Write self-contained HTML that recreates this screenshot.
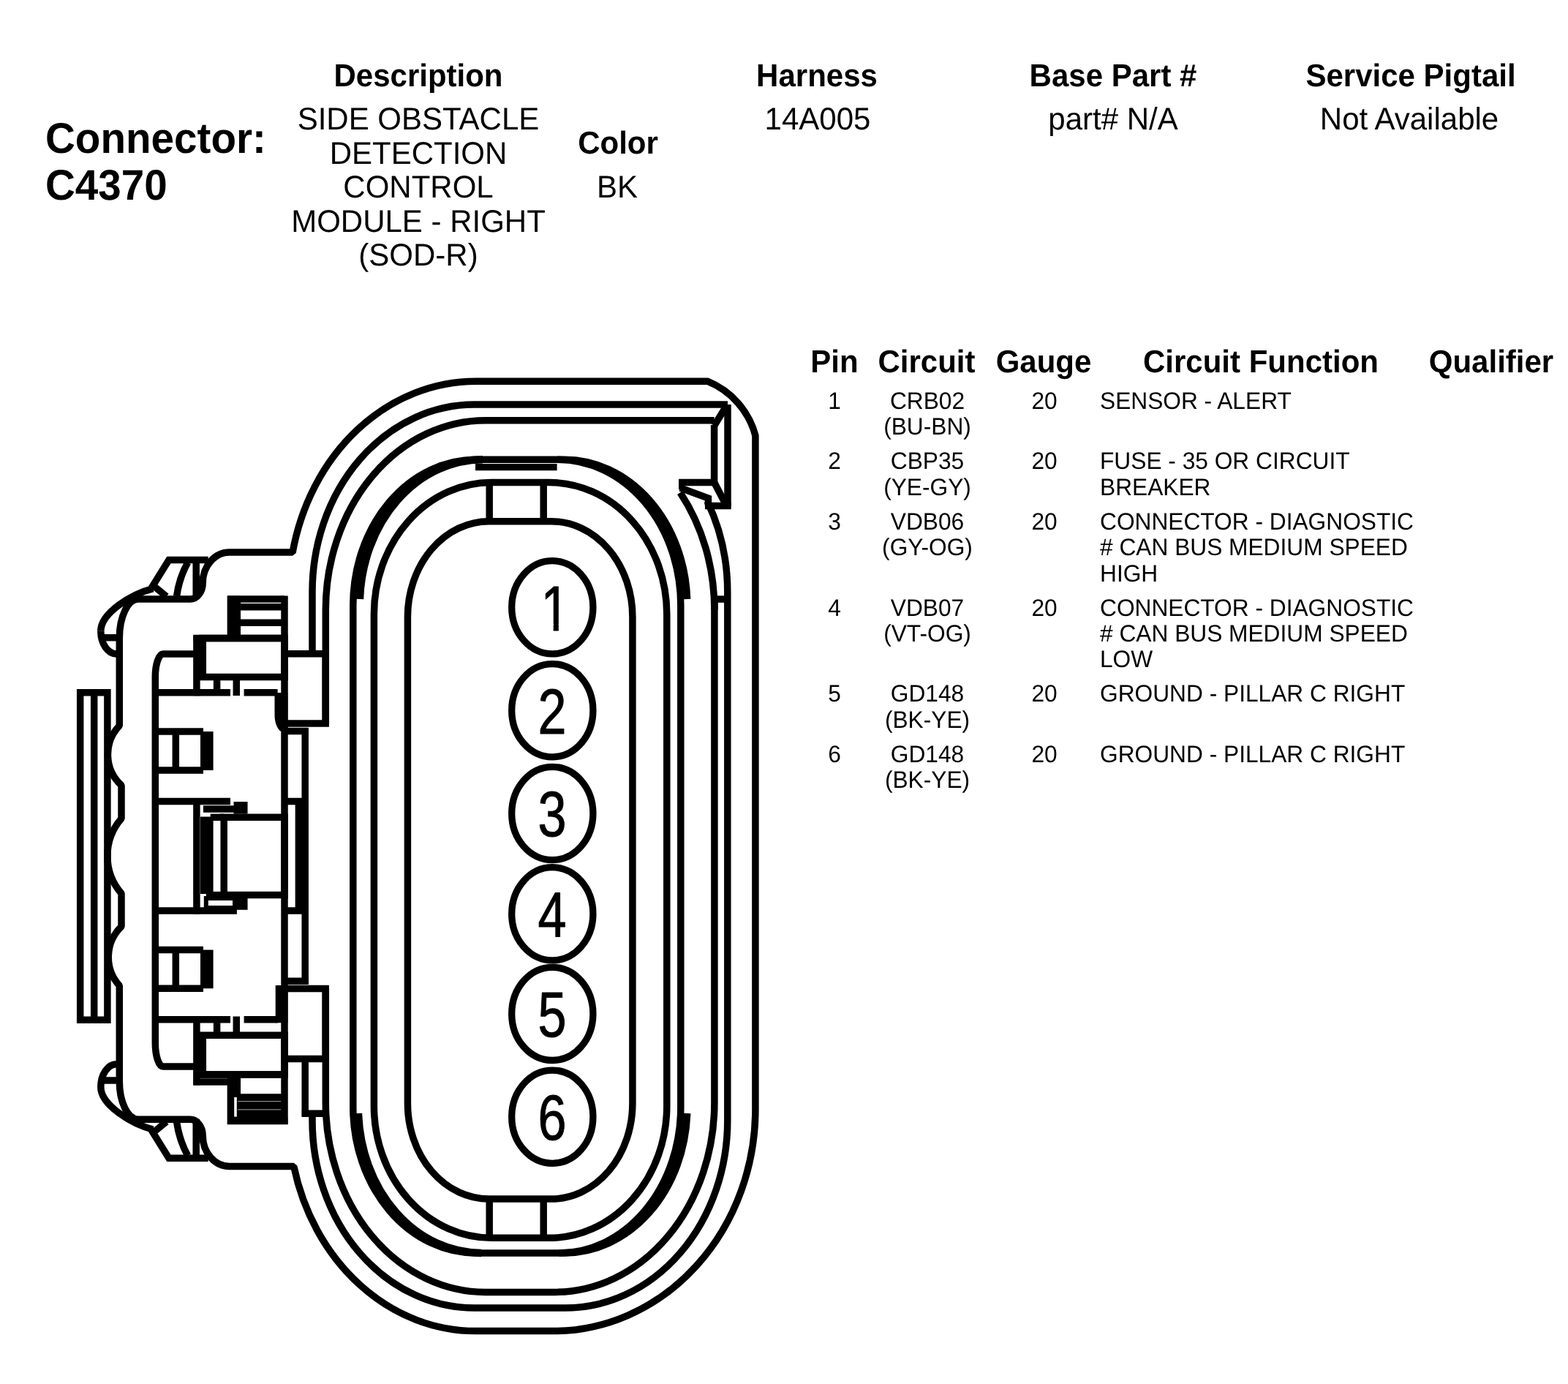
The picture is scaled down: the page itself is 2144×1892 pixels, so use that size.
<!DOCTYPE html>
<html lang="en"><head><meta charset="utf-8"><title>Connector C4370</title>
<style>
html,body{margin:0;padding:0;background:#fff;}
body{width:2144px;height:1892px;position:relative;overflow:hidden;font-family:"Liberation Sans",Arial,Helvetica,sans-serif;color:#000;}
.t{position:absolute;white-space:nowrap;margin:0;padding:0;will-change:transform;text-rendering:geometricPrecision;}
svg text{font-family:"Liberation Sans",Arial,Helvetica,sans-serif;fill:#000;stroke:none;}
</style></head><body>
<svg xmlns="http://www.w3.org/2000/svg" width="2144" height="1892" viewBox="0 0 2144 1892" style="position:absolute;left:0;top:0" fill="none" stroke="#000" stroke-linejoin="miter" stroke-linecap="butt">
<path d="M400.10 755.1 A255.9 293.3 0 0 1 650.70 521.20 H967.3 A111 111 0 0 1 1032.9 595.4 V1516.2 A276.4 303.4 0 0 1 756.50 1819.60 H650.7 A255.9 293.3 0 0 1 401.75 1594.50 H313.8 A36.6 42 0 0 1 277.2 1552.5 A17.2 22.2 0 0 0 260 1530.3 H189 A25.7 52 0 0 1 163.3 1478 V1347.4 A58 58 0 0 1 166 1266.7 V1221.3 A78 78 0 0 1 166 1119 V1073.5 A57 57 0 0 1 163.3 992 V872.4 A25.7 53.3 0 0 1 189 819.1 H260 A17.2 22.1 0 0 0 277.2 797 A36.6 41.9 0 0 1 313.8 755.1 Z" stroke-width="9.5" stroke-linejoin="bevel"/>
<path d="M427 893.8 V809.2 A221.6 256.1 0 0 1 648.60 553.10 H995" stroke-width="9.5" />
<path d="M995 553.1 V691.4" stroke-width="9.5" />
<path d="M999.7 691.4 H964" stroke-width="9.5" />
<path d="M994.8 819 V1531.8999999999999 A221.6 256.1 0 0 1 773.20 1788.00 H648.6 A221.6 256.1 0 0 1 427.00 1531.90 V1522" stroke-width="9.5" />
<path d="M445.3 989 V833.8 A218.5 259.1 0 0 1 663.80 574.70 H976.6" stroke-width="9.5" />
<path d="M976.6 582 L992.6 556" stroke-width="9.5" />
<path d="M976.9 819 V1507.3 A218.5 259.1 0 0 1 758.40 1766.40 H663.8 A218.5 259.1 0 0 1 445.30 1507.30 V1351.5" stroke-width="9.5" />
<path d="M976.6 581 V659.5 H928" stroke-width="9.5" />
<path d="M928 664.5 H932" stroke-width="9.5" />
<path d="M976.6 659.5 L991 687" stroke-width="9.5" />
<path d="M930.2 667 L968.4 681 V691.4" stroke-width="9.5" />
<path d="M976.6 819.1 H995" stroke-width="9.5" />
<path d="M930 673.41 A218.5 259.1 0 0 1 976.90 833.80 V819.1" stroke-width="9.5" />
<path d="M967 685.01 A221.6 256.1 0 0 1 994.80 809.20 V819.1" stroke-width="9.5" />
<path d="M939.65 819.0 A168.2 199.1 0 0 0 771.60 628.20 H651.0 A168.2 199.1 0 0 0 482.80 827.30 V1513.8 A168.2 199.1 0 0 0 651.00 1712.90 H771.5999999999999 A168.2 199.1 0 0 0 939.66 1522.00 " stroke-width="9.5" />
<path d="M491.95 819.0 A168.2 199.1 0 0 1 660.00 628.20 " stroke-width="10.5" />
<path d="M658.0 1712.8999999999999 A168.2 199.1 0 0 1 489.94 1522.00 " stroke-width="10.5" />
<path d="M762.5999999999999 628.1999999999999 A168.2 199.1 0 0 1 930.80 827.30 V1513.8 A166.2 199.1 0 0 1 764.60 1712.90 " stroke-width="9.5" />
<path d="M650 634H761.6V643.2H650Z" fill="#000" stroke="none"/>
<path d="M511.4 839.8 A160.7 180.3 0 0 1 672.10 659.50 H751.0999999999999 A160.7 180.3 0 0 1 911.80 839.80 V1512.0000000000002 A160.7 180.3 0 0 1 751.10 1692.30 H672.1 A160.7 180.3 0 0 1 511.40 1512.00 Z" stroke-width="9.5" />
<path d="M557.4 843.5 A111.2 130.8 0 0 1 668.60 712.70 H753.6999999999999 A111.2 130.8 0 0 1 864.90 843.50 V1508.3000000000002 A111.2 130.8 0 0 1 753.70 1639.10 H668.6 A111.2 130.8 0 0 1 557.40 1508.30 Z" stroke-width="9.5" />
<path d="M669.2 659.5L669.2 712.7" stroke-width="9.5" />
<path d="M743.2 659.5L743.2 712.7" stroke-width="9.5" />
<path d="M669.2 1639.1L669.2 1692.2" stroke-width="9.5" />
<path d="M743.2 1639.1L743.2 1692.2" stroke-width="9.5" />
<clipPath id="nofoot"><path d="M-60 -80 H60 V-9 H4.72 V5 H-2.41 V-9 H-60 Z"/></clipPath>
<ellipse cx="755.3" cy="830.3" rx="55.6" ry="63.6" stroke-width="9.3"/>
<g transform="translate(759.1 861.6999999999999)" clip-path="url(#nofoot)"><text transform="scale(0.80 1)" text-anchor="middle" font-size="87.6" style="stroke:#000;stroke-width:1.1px;stroke-linejoin:round">1</text></g>
<ellipse cx="755.3" cy="971.2" rx="55.6" ry="63.6" stroke-width="9.3"/>
<g transform="translate(755.1 1002.6)"><text transform="scale(0.80 1)" text-anchor="middle" font-size="87.6" style="stroke:#000;stroke-width:1.1px;stroke-linejoin:round">2</text></g>
<ellipse cx="755.3" cy="1112.0" rx="55.6" ry="63.6" stroke-width="9.3"/>
<g transform="translate(755.1 1143.4)"><text transform="scale(0.80 1)" text-anchor="middle" font-size="87.6" style="stroke:#000;stroke-width:1.1px;stroke-linejoin:round">3</text></g>
<ellipse cx="755.3" cy="1249.3" rx="55.6" ry="63.6" stroke-width="9.3"/>
<g transform="translate(755.1 1280.7)"><text transform="scale(0.80 1)" text-anchor="middle" font-size="87.6" style="stroke:#000;stroke-width:1.1px;stroke-linejoin:round">4</text></g>
<ellipse cx="755.3" cy="1385.9" rx="55.6" ry="63.6" stroke-width="9.3"/>
<g transform="translate(755.1 1417.3000000000002)"><text transform="scale(0.80 1)" text-anchor="middle" font-size="87.6" style="stroke:#000;stroke-width:1.1px;stroke-linejoin:round">5</text></g>
<ellipse cx="755.3" cy="1526.7" rx="55.6" ry="63.6" stroke-width="9.3"/>
<g transform="translate(755.1 1558.1000000000001)"><text transform="scale(0.80 1)" text-anchor="middle" font-size="87.6" style="stroke:#000;stroke-width:1.1px;stroke-linejoin:round">6</text></g>
<path d="M137.8 862.7 C137.8 838 180 812 209.3 804.6" stroke-width="9.5" />
<path d="M137.8 862.7 A21.5 31.2 0 0 0 159.3 893.9" stroke-width="9.5" />
<path d="M140 871.7 H160" stroke-width="9.5" />
<path d="M284.7 765.5 H230.9 L209.3 800.3 L227.6 815.4" stroke-width="9.5" />
<path d="M256.7 769 Q245 790 241.6 815" stroke-width="9.5" />
<path d="M268.2 765.5 V819" stroke-width="9.5" />
<path d="M137.8 1485.9999999999998 C137.8 1510.6999999999998 180 1536.6999999999998 209.3 1544.1" stroke-width="9.5" />
<path d="M137.8 1485.9999999999998 A21.5 31.2 0 0 1 159.3 1454.7999999999997" stroke-width="9.5" />
<path d="M140 1476.9999999999998 H160" stroke-width="9.5" />
<path d="M284.7 1583.1999999999998 H230.9 L209.3 1548.3999999999999 L227.6 1533.2999999999997" stroke-width="9.5" />
<path d="M256.7 1579.6999999999998 Q245 1558.6999999999998 241.6 1533.6999999999998" stroke-width="9.5" />
<path d="M268.2 1583.1999999999998 V1529.6999999999998" stroke-width="9.5" />
<path d="M109.7 946.7 H146.9 V1394.2 H109.7 Z" stroke-width="9.5" />
<path d="M128.7 946.7L128.7 1394.2" stroke-width="9.5" />
<path d="M268.5 893.9 H223 A10.7 31.6 0 0 0 212.3 925.5 V1425.5 A10.7 32.5 0 0 0 223 1458 H268.5" stroke-width="9.5" />
<path d="M212.3 946.8 H315" stroke-width="9.5" />
<path d="M333.6 946.8 H379.6" stroke-width="9.5" />
<path d="M212.3 1393.8 H315" stroke-width="9.5" />
<path d="M333.6 1393.8 H379.6" stroke-width="9.5" />
<path d="M212.3 1095.4 H315" stroke-width="9.5" />
<path d="M212.3 1245 H323.9" stroke-width="9.5" />
<path d="M212.3 1000.1 H278" stroke-width="9.5" />
<path d="M212.3 1053 H278" stroke-width="9.5" />
<path d="M240.3 1000.1L240.3 1053" stroke-width="9.5" />
<path d="M282.8 1000.1L282.8 1053" stroke-width="17.6" />
<path d="M212.3 1298.5 H278" stroke-width="9.5" />
<path d="M212.3 1351.3 H278" stroke-width="9.5" />
<path d="M240.3 1298.5L240.3 1351.3" stroke-width="9.5" />
<path d="M282.8 1298.5L282.8 1351.3" stroke-width="17.6" />
<path d="M268.9 868.2L268.9 951.2" stroke-width="9.5" />
<path d="M277.3 872.6 H389 V925.5 H277.3 Z" stroke-width="9.5" />
<path d="M264.5 872.6 H389" stroke-width="9.5" />
<path d="M315.4 814.6L315.4 872.6" stroke-width="9.5" />
<path d="M324.3 814.6L324.3 872.6" stroke-width="9.5" />
<path d="M311 819 H389" stroke-width="9.5" />
<path d="M324.3 829.7 H389" stroke-width="9.5" />
<path d="M324.3 851.2 H389" stroke-width="9.5" />
<path d="M296.6 925.5L296.6 947" stroke-width="9.5" />
<path d="M323.3 929L323.3 951" stroke-width="9.5" />
<path d="M268.9 1389.4L268.9 1483.5" stroke-width="9.5" />
<path d="M277.3 1415.3 H389 V1469 H277.3 Z" stroke-width="9.5" />
<path d="M264.5 1469 H389" stroke-width="9.5" />
<path d="M264.5 1479 H320" stroke-width="9.5" />
<path d="M296.6 1393.8L296.6 1415" stroke-width="9.5" />
<path d="M323.3 1389.5L323.3 1411" stroke-width="9.5" />
<path d="M315.4 1469L315.4 1537" stroke-width="9.5" />
<path d="M324.3 1469L324.3 1537" stroke-width="9.5" />
<path d="M324.3 1495.3H389V1537H324.3Z" fill="#000" stroke="none"/>
<path d="M311 1532.6 H393.4" stroke-width="9.5" />
<path d="M325 1505.7 H384.5 M325 1516.9 H384.5" stroke="#bbb" stroke-width="0.9"/>
<path d="M320.2 1500 H323.8 V1526.6 H320.2 Z" fill="#fff" stroke="none"/>
<path d="M389 814.6L389 1537" stroke-width="9.5" />
<path d="M389 893.8 H445.2 V989 H389" stroke-width="9.5" />
<path d="M389 1351.5 H449.6" stroke-width="9.5" />
<path d="M389 1447.4 H449.6" stroke-width="9.5" />
<path d="M445.2 1347L445.2 1452" stroke-width="9.5" />
<path d="M417.2 995.2L417.2 1345.7" stroke-width="9.5" />
<path d="M417.2 1447.4L417.2 1526.6" stroke-width="9.5" />
<path d="M408.4 1095.4L408.4 1245.1" stroke-width="9.5" />
<path d="M389 1095.4 H421.6" stroke-width="9.5" />
<path d="M389 1245.1 H421.6" stroke-width="9.5" />
<path d="M389 999.5 H421.6" stroke-width="9.5" />
<path d="M389 1341.3 H421.6" stroke-width="9.5" />
<path d="M412.8 1522.2 H449.6" stroke-width="9.5" />
<path d="M375.5 947 H393.4 V1004 Q376 1001 375.5 978 Z" fill="#000" stroke="none"/>
<path d="M376.7 1347H393.4V1398.2H376.7Z" fill="#000" stroke="none"/>
<path d="M306.2 1117.3 H389 V1223.6 H306.2 Z" stroke-width="9.5" />
<path d="M287.7 1117.3 H306.2" stroke-width="9.5" />
<path d="M281.8 1223.6 H306.2" stroke-width="9.5" />
<path d="M282.8 1116.5L282.8 1222" stroke-width="17.6" />
<path d="M268.9 1091L268.9 1249.4" stroke-width="9.5" />
<path d="M277.9 1106 H321" stroke-width="9.5" />
<path d="M324.3 1096L324.3 1112.6" stroke-width="9.5" />
<path d="M333.8 1096L333.8 1112.6" stroke-width="9.5" />
<path d="M281.8 1228 H321 V1241 H281.8 Z" stroke-width="6" />
<path d="M324.3 1228L324.3 1243.8" stroke-width="9.5" />
<path d="M333.8 1228L333.8 1243.8" stroke-width="9.5" />
</svg>
<div class="t" style="top:156px;font-size:56.6px;line-height:68px;font-weight:bold;left:61.50px;transform-origin:0 54px;transform:scale(1.0,1.037);">Connector:</div>
<div class="t" style="top:220px;font-size:56.6px;line-height:68px;font-weight:bold;left:61.50px;transform-origin:0 54px;transform:scale(1.0,1.037);">C4370</div>
<div class="t" style="top:79px;font-size:42px;line-height:50px;font-weight:bold;left:172.20px;width:800px;text-align:center;transform-origin:400px 40px;transform:scale(1.0,1.035);">Description</div>
<div class="t" style="top:138px;font-size:42px;line-height:50px;left:171.80px;width:800px;text-align:center;transform-origin:400px 40px;transform:scale(1.0,1.02);">SIDE OBSTACLE</div>
<div class="t" style="top:185px;font-size:42px;line-height:50px;left:171.80px;width:800px;text-align:center;transform-origin:400px 40px;transform:scale(1.0,1.02);">DETECTION</div>
<div class="t" style="top:231px;font-size:42px;line-height:50px;left:171.80px;width:800px;text-align:center;transform-origin:400px 40px;transform:scale(1.0,1.02);">CONTROL</div>
<div class="t" style="top:278px;font-size:42px;line-height:50px;left:171.80px;width:800px;text-align:center;transform-origin:400px 40px;transform:scale(1.0,1.02);">MODULE - RIGHT</div>
<div class="t" style="top:324px;font-size:42px;line-height:50px;left:171.80px;width:800px;text-align:center;transform-origin:400px 40px;transform:scale(1.0,1.02);">(SOD-R)</div>
<div class="t" style="top:171px;font-size:42px;line-height:50px;font-weight:bold;left:444.60px;width:800px;text-align:center;transform-origin:400px 40px;transform:scale(1.0,1.035);">Color</div>
<div class="t" style="top:231px;font-size:42px;line-height:50px;left:444.30px;width:800px;text-align:center;transform-origin:400px 40px;transform:scale(1.0,1.02);">BK</div>
<div class="t" style="top:79px;font-size:42px;line-height:50px;font-weight:bold;left:717.20px;width:800px;text-align:center;transform-origin:400px 40px;transform:scale(1.0,1.035);">Harness</div>
<div class="t" style="top:138px;font-size:42px;line-height:50px;left:717.50px;width:800px;text-align:center;transform-origin:400px 40px;transform:scale(1.0,1.02);">14A005</div>
<div class="t" style="top:79px;font-size:42px;line-height:50px;font-weight:bold;left:1122.30px;width:800px;text-align:center;transform-origin:400px 40px;transform:scale(1.0,1.035);">Base Part #</div>
<div class="t" style="top:138px;font-size:42px;line-height:50px;left:1122.00px;width:800px;text-align:center;transform-origin:400px 40px;transform:scale(1.0,1.02);">part# N/A</div>
<div class="t" style="top:79px;font-size:42px;line-height:50px;font-weight:bold;left:1528.50px;width:800px;text-align:center;transform-origin:400px 40px;transform:scale(1.0,1.035);">Service Pigtail</div>
<div class="t" style="top:138px;font-size:42px;line-height:50px;left:1527.30px;width:800px;text-align:center;transform-origin:400px 40px;transform:scale(1.0,1.02);">Not Available</div>
<div class="t" style="top:470px;font-size:42px;line-height:50px;font-weight:bold;left:741.10px;width:800px;text-align:center;transform-origin:400px 40px;transform:scale(1.0,1.035);">Pin</div>
<div class="t" style="top:470px;font-size:42px;line-height:50px;font-weight:bold;left:867.40px;width:800px;text-align:center;transform-origin:400px 40px;transform:scale(1.0,1.035);">Circuit</div>
<div class="t" style="top:470px;font-size:42px;line-height:50px;font-weight:bold;left:1027.40px;width:800px;text-align:center;transform-origin:400px 40px;transform:scale(1.0,1.035);">Gauge</div>
<div class="t" style="top:470px;font-size:42px;line-height:50px;font-weight:bold;left:1324.20px;width:800px;text-align:center;transform-origin:400px 40px;transform:scale(1.0,1.035);">Circuit Function</div>
<div class="t" style="top:470px;font-size:42px;line-height:50px;font-weight:bold;left:1639.20px;width:800px;text-align:center;transform-origin:400px 40px;transform:scale(1.0,1.035);">Qualifier</div>
<div class="t" style="top:529px;font-size:31.7px;line-height:38px;left:740.70px;width:800px;text-align:center;transform-origin:400px 30px;transform:scale(1.0,1.03);">1</div>
<div class="t" style="top:529px;font-size:31.7px;line-height:38px;left:867.60px;width:800px;text-align:center;transform-origin:400px 30px;transform:scale(1.0,1.03);">CRB02</div>
<div class="t" style="top:564px;font-size:31.7px;line-height:38px;left:867.60px;width:800px;text-align:center;transform-origin:400px 30px;transform:scale(1.0,1.03);">(BU-BN)</div>
<div class="t" style="top:529px;font-size:31.7px;line-height:38px;left:1028.00px;width:800px;text-align:center;transform-origin:400px 30px;transform:scale(1.0,1.03);">20</div>
<div class="t" style="top:529px;font-size:31.7px;line-height:38px;left:1504.30px;transform-origin:0 30px;transform:scale(1.0,1.03);">SENSOR - ALERT</div>
<div class="t" style="top:611px;font-size:31.7px;line-height:38px;left:740.70px;width:800px;text-align:center;transform-origin:400px 30px;transform:scale(1.0,1.03);">2</div>
<div class="t" style="top:611px;font-size:31.7px;line-height:38px;left:867.60px;width:800px;text-align:center;transform-origin:400px 30px;transform:scale(1.0,1.03);">CBP35</div>
<div class="t" style="top:647px;font-size:31.7px;line-height:38px;left:867.60px;width:800px;text-align:center;transform-origin:400px 30px;transform:scale(1.0,1.03);">(YE-GY)</div>
<div class="t" style="top:611px;font-size:31.7px;line-height:38px;left:1028.00px;width:800px;text-align:center;transform-origin:400px 30px;transform:scale(1.0,1.03);">20</div>
<div class="t" style="top:611px;font-size:31.7px;line-height:38px;left:1504.30px;transform-origin:0 30px;transform:scale(1.0,1.03);">FUSE - 35 OR CIRCUIT</div>
<div class="t" style="top:647px;font-size:31.7px;line-height:38px;left:1504.30px;transform-origin:0 30px;transform:scale(1.0,1.03);">BREAKER</div>
<div class="t" style="top:694px;font-size:31.7px;line-height:38px;left:740.70px;width:800px;text-align:center;transform-origin:400px 30px;transform:scale(1.0,1.03);">3</div>
<div class="t" style="top:694px;font-size:31.7px;line-height:38px;left:867.60px;width:800px;text-align:center;transform-origin:400px 30px;transform:scale(1.0,1.03);">VDB06</div>
<div class="t" style="top:729px;font-size:31.7px;line-height:38px;left:867.60px;width:800px;text-align:center;transform-origin:400px 30px;transform:scale(1.0,1.03);">(GY-OG)</div>
<div class="t" style="top:694px;font-size:31.7px;line-height:38px;left:1028.00px;width:800px;text-align:center;transform-origin:400px 30px;transform:scale(1.0,1.03);">20</div>
<div class="t" style="top:694px;font-size:31.7px;line-height:38px;left:1504.30px;transform-origin:0 30px;transform:scale(1.0,1.03);">CONNECTOR - DIAGNOSTIC</div>
<div class="t" style="top:729px;font-size:31.7px;line-height:38px;left:1504.30px;transform-origin:0 30px;transform:scale(1.0,1.03);"># CAN BUS MEDIUM SPEED</div>
<div class="t" style="top:765px;font-size:31.7px;line-height:38px;left:1504.30px;transform-origin:0 30px;transform:scale(1.0,1.03);">HIGH</div>
<div class="t" style="top:812px;font-size:31.7px;line-height:38px;left:740.70px;width:800px;text-align:center;transform-origin:400px 30px;transform:scale(1.0,1.03);">4</div>
<div class="t" style="top:812px;font-size:31.7px;line-height:38px;left:867.60px;width:800px;text-align:center;transform-origin:400px 30px;transform:scale(1.0,1.03);">VDB07</div>
<div class="t" style="top:847px;font-size:31.7px;line-height:38px;left:867.60px;width:800px;text-align:center;transform-origin:400px 30px;transform:scale(1.0,1.03);">(VT-OG)</div>
<div class="t" style="top:812px;font-size:31.7px;line-height:38px;left:1028.00px;width:800px;text-align:center;transform-origin:400px 30px;transform:scale(1.0,1.03);">20</div>
<div class="t" style="top:812px;font-size:31.7px;line-height:38px;left:1504.30px;transform-origin:0 30px;transform:scale(1.0,1.03);">CONNECTOR - DIAGNOSTIC</div>
<div class="t" style="top:847px;font-size:31.7px;line-height:38px;left:1504.30px;transform-origin:0 30px;transform:scale(1.0,1.03);"># CAN BUS MEDIUM SPEED</div>
<div class="t" style="top:882px;font-size:31.7px;line-height:38px;left:1504.30px;transform-origin:0 30px;transform:scale(1.0,1.03);">LOW</div>
<div class="t" style="top:929px;font-size:31.7px;line-height:38px;left:740.70px;width:800px;text-align:center;transform-origin:400px 30px;transform:scale(1.0,1.03);">5</div>
<div class="t" style="top:929px;font-size:31.7px;line-height:38px;left:867.60px;width:800px;text-align:center;transform-origin:400px 30px;transform:scale(1.0,1.03);">GD148</div>
<div class="t" style="top:965px;font-size:31.7px;line-height:38px;left:867.60px;width:800px;text-align:center;transform-origin:400px 30px;transform:scale(1.0,1.03);">(BK-YE)</div>
<div class="t" style="top:929px;font-size:31.7px;line-height:38px;left:1028.00px;width:800px;text-align:center;transform-origin:400px 30px;transform:scale(1.0,1.03);">20</div>
<div class="t" style="top:929px;font-size:31.7px;line-height:38px;left:1504.30px;transform-origin:0 30px;transform:scale(1.0,1.03);">GROUND - PILLAR C RIGHT</div>
<div class="t" style="top:1012px;font-size:31.7px;line-height:38px;left:740.70px;width:800px;text-align:center;transform-origin:400px 30px;transform:scale(1.0,1.03);">6</div>
<div class="t" style="top:1012px;font-size:31.7px;line-height:38px;left:867.60px;width:800px;text-align:center;transform-origin:400px 30px;transform:scale(1.0,1.03);">GD148</div>
<div class="t" style="top:1047px;font-size:31.7px;line-height:38px;left:867.60px;width:800px;text-align:center;transform-origin:400px 30px;transform:scale(1.0,1.03);">(BK-YE)</div>
<div class="t" style="top:1012px;font-size:31.7px;line-height:38px;left:1028.00px;width:800px;text-align:center;transform-origin:400px 30px;transform:scale(1.0,1.03);">20</div>
<div class="t" style="top:1012px;font-size:31.7px;line-height:38px;left:1504.30px;transform-origin:0 30px;transform:scale(1.0,1.03);">GROUND - PILLAR C RIGHT</div>
</body></html>
